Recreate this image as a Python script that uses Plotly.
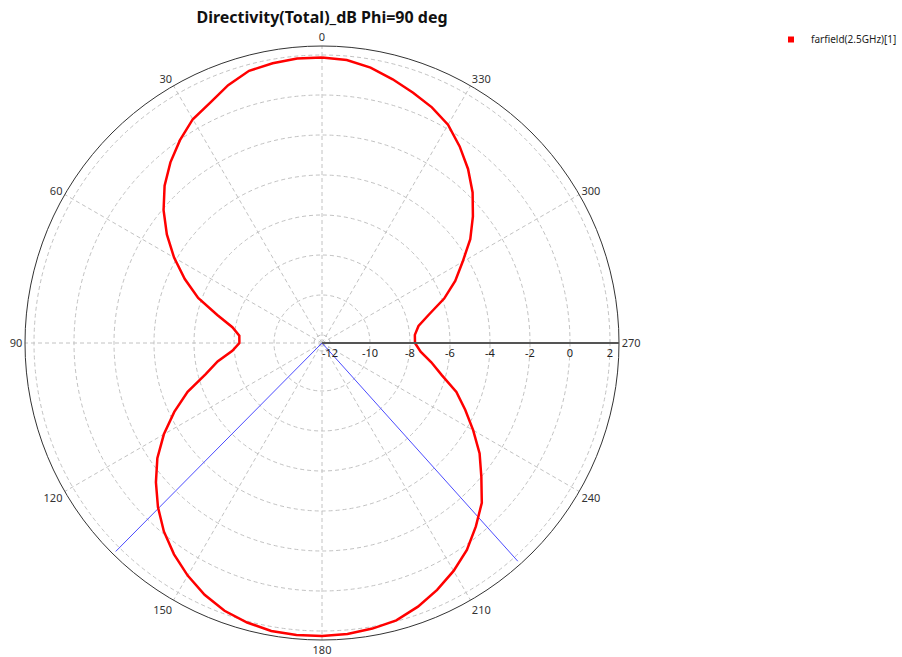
import plotly.graph_objects as go

# Far-field directivity cut, Phi = 90 deg (theta in degrees, value in dB)
theta_deg = list(range(0, 365, 5))
directivity_db = [
    1.88, 1.88, 1.80, 1.69, 1.32, 0.85, 0.52, -0.02, -0.61, -1.27,
    -2.06, -2.93, -3.86, -4.83, -5.81, -6.98, -7.85, -8.25, -8.27, -7.90,
    -7.10, -6.38, -5.25, -4.25, -3.27, -2.35, -1.56, -0.80, -0.10, 0.50,
    1.03, 1.49, 1.85, 2.07, 2.22, 2.26, 2.25, 2.20, 2.10, 1.96,
    1.63, 1.22, 0.76, 0.23, -0.43, -1.10, -2.00, -2.78, -3.67, -4.50,
    -5.25, -6.20, -6.85, -7.45, -7.75, -7.74, -7.50, -6.85, -5.90, -5.05,
    -4.28, -3.35, -2.55, -1.75, -1.04, -0.40, 0.20, 0.60, 0.92, 1.25,
    1.58, 1.80, 1.88,
]

# -3 dB beamwidth markers of the main lobe
main_lobe_max_db = 2.26
beam_edges_deg = [135.3, 221.9]

radial_min, radial_max = -12.4, 2.45
radial_ticks = [-12, -10, -8, -6, -4, -2, 0, 2]
angle_ticks = list(range(0, 360, 30))

series_name = "farfield(2.5GHz)[1]"
title_text = "Directivity(Total)_dB Phi=90 deg"

fig = go.Figure()

for edge in beam_edges_deg:
    fig.add_trace(go.Scatterpolar(
        r=[radial_min, main_lobe_max_db], theta=[edge, edge],
        mode="lines", line=dict(color="#4b4bff", width=1),
        showlegend=False, hoverinfo="skip",
    ))

fig.add_trace(go.Scatterpolar(
    r=directivity_db, theta=theta_deg, mode="lines",
    line=dict(color="#ff0000", width=2.5), showlegend=False, name=series_name,
))

# legend entry shown as a filled square
fig.add_trace(go.Scatterpolar(
    r=[None], theta=[None], mode="markers",
    marker=dict(symbol="square", color="#ff0000", size=6),
    name=series_name, showlegend=True,
))

grid_dash = "4px,3px"

fig.update_layout(
    width=902, height=657,
    paper_bgcolor="white",
    margin=dict(l=0, r=0, t=0, b=0, autoexpand=False),
    font=dict(family="Noto Sans, DejaVu Sans, sans-serif", size=11, color="#333333"),
    title=dict(
        text=title_text, x=322 / 902, xanchor="center", y=1 - 17 / 657, yanchor="middle",
        font=dict(size=16, color="#111111", family="Noto Sans, DejaVu Sans, sans-serif", weight="bold"),
    ),
    legend=dict(
        x=1, y=1 - 25 / 657, xanchor="right", yanchor="top",
        font=dict(size=10, color="#222222"), bgcolor="rgba(0,0,0,0)",
        itemwidth=30, tracegroupgap=0,
    ),
    polar=dict(
        domain=dict(x=[25 / 902, 619 / 902], y=[17 / 657, 611 / 657]),
        bgcolor="white",
        radialaxis=dict(
            range=[radial_min, radial_max], tickvals=radial_ticks,
            ticktext=[str(v) for v in radial_ticks],
            angle=0, showline=True, linecolor="#555555", linewidth=2,
            ticks="", gridcolor="#c2c2c2", griddash=grid_dash, gridwidth=1,
            tickfont=dict(size=11, color="#222222"),
        ),
        angularaxis=dict(
            rotation=90, direction="counterclockwise",
            tickmode="array", tickvals=angle_ticks,
            ticktext=[str(a) for a in angle_ticks],
            showline=True, linecolor="#333333", linewidth=1,
            ticks="", gridcolor="#c2c2c2", griddash=grid_dash, gridwidth=1,
            tickfont=dict(size=11, color="#333333"),
        ),
    ),
)

fig.write_html("out.html")
